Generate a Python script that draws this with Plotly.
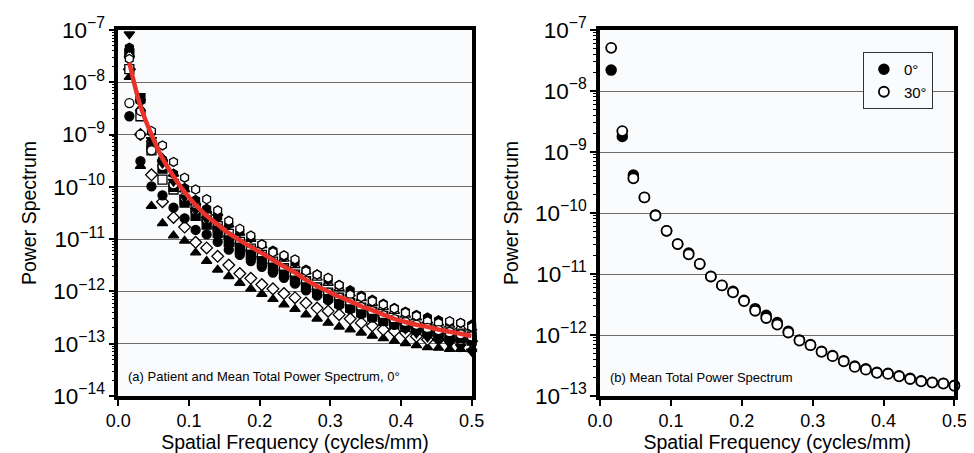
import plotly.graph_objects as go

# ---------------- data ----------------
freq = [0.0156, 0.0313, 0.0469, 0.0625, 0.0781, 0.0938, 0.1094, 0.125,
        0.1406, 0.1563, 0.1719, 0.1875, 0.2031, 0.2188, 0.2344, 0.25,
        0.2656, 0.2813, 0.2969, 0.3125, 0.3281, 0.3438, 0.3594, 0.375,
        0.3906, 0.4063, 0.4219, 0.4375, 0.4531, 0.4688, 0.4844, 0.5]

mean_0deg_curve = [2.4e-8, 3.5e-9, 1.0e-9, 3.5e-10, 1.6e-10, 7.9e-11, 4.5e-11, 2.8e-11,
                   1.9e-11, 1.3e-11, 9.5e-12, 7.1e-12, 5.4e-12, 4.0e-12, 3.0e-12, 2.3e-12,
                   1.66e-12, 1.26e-12, 1.0e-12, 7.9e-13, 6.5e-13, 5.2e-13, 4.4e-13, 3.6e-13,
                   3.0e-13, 2.6e-13, 2.3e-13, 2.1e-13, 1.86e-13, 1.7e-13, 1.55e-13, 1.4e-13]

patient_1 = [1.26e-8, 2.5e-10, 4.3e-11, 2.0e-11, 1.17e-11, 9.3e-12, 5.5e-12, 3.8e-12,
             2.6e-12, 1.95e-12, 1.45e-12, 1.12e-12, 8.9e-13, 7.1e-13, 5.6e-13, 4.6e-13,
             3.6e-13, 3.0e-13, 2.5e-13, 2.1e-13, 1.86e-13, 1.62e-13, 1.41e-13, 1.26e-13,
             1.12e-13, 1.02e-13, 9.3e-14, 8.5e-14, 8.3e-14, 7.9e-14, 7.9e-14, 7.8e-14]
patient_2 = [1.78e-8, 1.0e-9, 1.7e-10, 5.2e-11, 2.6e-11, 1.7e-11, 8.7e-12, 6.8e-12,
             4.7e-12, 3.2e-12, 2.2e-12, 1.78e-12, 1.35e-12, 1.12e-12, 9.1e-13, 7.6e-13,
             6.0e-13, 4.8e-13, 4.2e-13, 3.6e-13, 3.0e-13, 2.5e-13, 2.2e-13, 1.86e-13,
             1.74e-13, 1.62e-13, 1.38e-13, 1.2e-13, 1.2e-13, 1.17e-13, 1.15e-13, 1.12e-13]
patient_3 = [2.24e-9, 3.1e-10, 1.02e-10, 6.9e-11, 4.0e-11, 2.5e-11, 1.5e-11, 1.23e-11,
             8.9e-12, 6.3e-12, 5.0e-12, 3.8e-12, 2.95e-12, 2.3e-12, 1.82e-12, 1.41e-12,
             1.05e-12, 8.3e-13, 6.8e-13, 5.5e-13, 4.6e-13, 3.7e-13, 3.16e-13, 2.7e-13,
             2.3e-13, 2.0e-13, 1.82e-13, 1.62e-13, 1.48e-13, 1.38e-13, 1.29e-13, 1.17e-13]
patient_4 = [1.78e-8, 2.24e-9, 5.0e-10, 1.38e-10, 8.9e-11, 5.6e-11, 4.0e-11, 2.6e-11,
             1.78e-11, 1.26e-11, 8.9e-12, 6.6e-12, 5.0e-12, 3.7e-12, 2.8e-12, 2.1e-12,
             1.58e-12, 1.2e-12, 9.5e-13, 7.6e-13, 6.0e-13, 4.9e-13, 4.1e-13, 3.4e-13,
             2.8e-13, 2.4e-13, 2.1e-13, 1.9e-13, 1.7e-13, 1.58e-13, 1.48e-13, 1.38e-13]
patient_5 = [3.55e-8, 5.0e-9, 6.3e-10, 2.24e-10, 1.0e-10, 5.0e-11, 2.8e-11, 1.9e-11,
             1.32e-11, 8.9e-12, 6.6e-12, 5.0e-12, 3.8e-12, 2.8e-12, 2.2e-12, 1.66e-12,
             1.26e-12, 9.5e-13, 7.6e-13, 6.0e-13, 4.9e-13, 4.0e-13, 3.3e-13, 2.75e-13,
             2.4e-13, 2.1e-13, 1.86e-13, 1.66e-13, 1.51e-13, 1.38e-13, 1.26e-13, 1.15e-13]
patient_6 = [3.4e-8, 3.16e-9, 7.9e-10, 3.55e-10, 1.78e-10, 8.9e-11, 5.0e-11, 3.55e-11,
             3.16e-11, 1.9e-11, 1.32e-11, 1.0e-11, 7.6e-12, 5.6e-12, 4.2e-12, 3.16e-12,
             2.4e-12, 1.82e-12, 1.45e-12, 1.15e-12, 9.1e-13, 7.4e-13, 6.0e-13, 5.0e-13,
             4.2e-13, 3.55e-13, 3.16e-13, 2.75e-13, 2.5e-13, 2.3e-13, 2.1e-13, 2.0e-13]
patient_7 = [4.6e-8, 4.4e-9, 1.12e-9, 3.3e-10, 1.78e-10, 9.5e-11, 5.6e-11, 3.8e-11,
             2.6e-11, 1.9e-11, 1.38e-11, 1.05e-11, 7.9e-12, 6.0e-12, 4.6e-12, 3.55e-12,
             2.6e-12, 2.1e-12, 1.66e-12, 1.32e-12, 1.05e-12, 8.3e-13, 6.9e-13, 5.8e-13,
             4.8e-13, 4.1e-13, 3.55e-13, 3.16e-13, 2.8e-13, 2.6e-13, 2.5e-13, 2.3e-13]
patient_8 = [2.8e-8, 2.8e-9, 1.17e-9, 6.2e-10, 3.0e-10, 1.5e-10, 8.9e-11, 5.8e-11,
             3.55e-11, 2.24e-11, 1.58e-11, 1.17e-11, 7.9e-12, 5.6e-12, 4.9e-12, 4.1e-12,
             2.45e-12, 2.1e-12, 1.82e-12, 1.32e-12, 8.7e-13, 7.8e-13, 6.5e-13, 5.6e-13,
             4.7e-13, 3.9e-13, 3.4e-13, 2.7e-13, 2.5e-13, 2.7e-13, 2.5e-13, 2.1e-13]
patient_9 = [4.0e-9, 1.0e-9, 5.0e-10, 2.5e-10, 1.12e-10, 6.3e-11, 3.55e-11, 2.4e-11,
             1.66e-11, 1.12e-11, 8.3e-12, 6.3e-12, 4.8e-12, 3.55e-12, 2.75e-12, 2.1e-12,
             1.58e-12, 1.2e-12, 9.5e-13, 7.6e-13, 6.2e-13, 5.0e-13, 4.2e-13, 3.5e-13,
             2.95e-13, 2.6e-13, 2.3e-13, 2.0e-13, 1.82e-13, 1.66e-13, 1.51e-13, 1.38e-13]
patient_10 = [8.3e-8, 4.2e-9, 7.9e-10, 2.8e-10, 1.26e-10, 6.3e-11, 3.55e-11, 2.4e-11,
              1.58e-11, 1.05e-11, 7.6e-12, 5.6e-12, 4.2e-12, 3.16e-12, 2.3e-12, 1.78e-12,
              1.32e-12, 1.0e-12, 7.9e-13, 6.3e-13, 5.0e-13, 4.0e-13, 3.3e-13, 2.75e-13,
              2.3e-13, 1.9e-13, 1.58e-13, 1.32e-13, 1.15e-13, 1.0e-13, 8.7e-14, 7.1e-14]

mean_0deg = [2.2e-8, 1.8e-9, 4.2e-10, 1.8e-10, 9.3e-11, 5.1e-11, 3.1e-11, 2.2e-11,
             1.46e-11, 9.1e-12, 6.5e-12, 5.2e-12, 3.7e-12, 2.7e-12, 2.1e-12, 1.6e-12,
             1.15e-12, 8.3e-13, 7.0e-13, 5.4e-13, 4.6e-13, 3.8e-13, 3.1e-13, 2.8e-13,
             2.45e-13, 2.35e-13, 2.15e-13, 1.95e-13, 1.78e-13, 1.68e-13, 1.62e-13, 1.5e-13]
mean_30deg = [5.1e-8, 2.2e-9, 3.7e-10, 1.8e-10, 9.1e-11, 5.1e-11, 3.1e-11, 2.1e-11,
              1.46e-11, 9.1e-12, 6.5e-12, 5.0e-12, 3.6e-12, 2.5e-12, 1.9e-12, 1.48e-12,
              1.1e-12, 8.1e-13, 6.8e-13, 5.3e-13, 4.5e-13, 3.7e-13, 3.0e-13, 2.7e-13,
              2.4e-13, 2.3e-13, 2.1e-13, 1.9e-13, 1.74e-13, 1.66e-13, 1.6e-13, 1.47e-13]

x_ticks = [0.0, 0.1, 0.2, 0.3, 0.4, 0.5]
legend_names = ["0°", "30°"]
title_a = "(a) Patient and Mean Total Power Spectrum, 0°"
title_b = "(b) Mean Total Power Spectrum"
x_title = "Spatial Frequency (cycles/mm)"
y_title = "Power Spectrum"

# ---------------- figure ----------------
FONT = "Liberation Sans, Arial, sans-serif"
fig = go.Figure()

patients = [
    (patient_1, "triangle-up", "black"),
    (patient_2, "diamond", "white"),
    (patient_3, "circle", "black"),
    (patient_4, "square", "white"),
    (patient_5, "square", "black"),
    (patient_6, "triangle-up", "white"),
    (patient_7, "hexagon", "black"),
    (patient_8, "hexagon", "white"),
    (patient_9, "circle", "white"),
    (patient_10, "triangle-down", "black"),
]
for vals, sym, col in patients:
    fig.add_trace(go.Scatter(
        x=freq, y=vals, mode="markers", xaxis="x", yaxis="y", showlegend=False,
        cliponaxis=False,
        marker=dict(symbol=sym, size=9, color=col, line=dict(color="black", width=1.3)),
    ))

fig.add_trace(go.Scatter(
    x=freq, y=mean_0deg_curve, mode="lines", xaxis="x", yaxis="y", showlegend=False,
    line=dict(color="#e8322a", width=4.5, shape="spline"),
))

fig.add_trace(go.Scatter(
    x=freq, y=mean_0deg, mode="markers", xaxis="x2", yaxis="y2", name=legend_names[0],
    cliponaxis=False,
    marker=dict(symbol="circle", size=10, color="black", line=dict(color="black", width=1.5)),
))
fig.add_trace(go.Scatter(
    x=freq, y=mean_30deg, mode="markers", xaxis="x2", yaxis="y2", name=legend_names[1],
    cliponaxis=False,
    marker=dict(symbol="circle", size=10, color="white", line=dict(color="black", width=1.8)),
))

W, H = 974, 453
ML, MR, MT, MB = 0, 0, 22, 65
PH = H - MT - MB
dom_a = [100 / W, 463 / W]
dom_b = [595 / W, 959 / W]

xaxis_common = dict(
    range=[0, 0.5], tickvals=x_ticks, tickformat=".1f",
    showline=True, linecolor="black", linewidth=3.5, mirror=True,
    ticks="outside", ticklen=6, tickwidth=1.5, tickcolor="black",
    showgrid=False, zeroline=False,
    tickfont=dict(family=FONT, size=18, color="black"),
    title=dict(text=x_title, font=dict(family=FONT, size=19.5, color="black"), standoff=4),
)
yaxis_common = dict(
    type="log", dtick=1, exponentformat="power", showexponent="all",
    showline=True, linecolor="black", linewidth=3.5, mirror=True,
    ticks="outside", ticklen=6, tickwidth=1.5, tickcolor="black",
    minor=dict(ticks="outside", ticklen=3, tickwidth=1, tickcolor="black", showgrid=False),
    showgrid=True, gridcolor="#6f6a66", gridwidth=1, zeroline=False,
    tickfont=dict(family=FONT, size=18, color="black"),
    title=dict(text=y_title, font=dict(family=FONT, size=19.5, color="black"), standoff=12),
)

fig.update_layout(
    width=W, height=H,
    margin=dict(l=ML, r=MR, t=MT, b=MB),
    paper_bgcolor="white", plot_bgcolor="#fafbfd",
    xaxis=dict(domain=dom_a, anchor="y", **xaxis_common),
    yaxis=dict(domain=[0, 1], anchor="x", range=[-14, -7], **yaxis_common),
    xaxis2=dict(domain=dom_b, anchor="y2", **xaxis_common),
    yaxis2=dict(domain=[0, 1], anchor="x2", range=[-13, -7], **yaxis_common),
    showlegend=True,
    legend=dict(
        x=865 / W, y=(388 - 44) / PH, xanchor="left", yanchor="top",
        bgcolor="#fafbfd", bordercolor="#333333", borderwidth=1,
        font=dict(family=FONT, size=15, color="black"),
        itemwidth=30, entrywidth=52, entrywidthmode="pixels", tracegroupgap=0,
    ),
    annotations=[
        dict(text=title_a, xref="paper", yref="paper", x=108 / W, y=(388 - 368) / PH,
             xanchor="left", yanchor="middle", showarrow=False,
             font=dict(family=FONT, size=13, color="black")),
        dict(text=title_b, xref="paper", yref="paper", x=603 / W, y=(388 - 369) / PH,
             xanchor="left", yanchor="middle", showarrow=False,
             font=dict(family=FONT, size=13, color="black")),
    ],
)

fig.write_html("out.html")
